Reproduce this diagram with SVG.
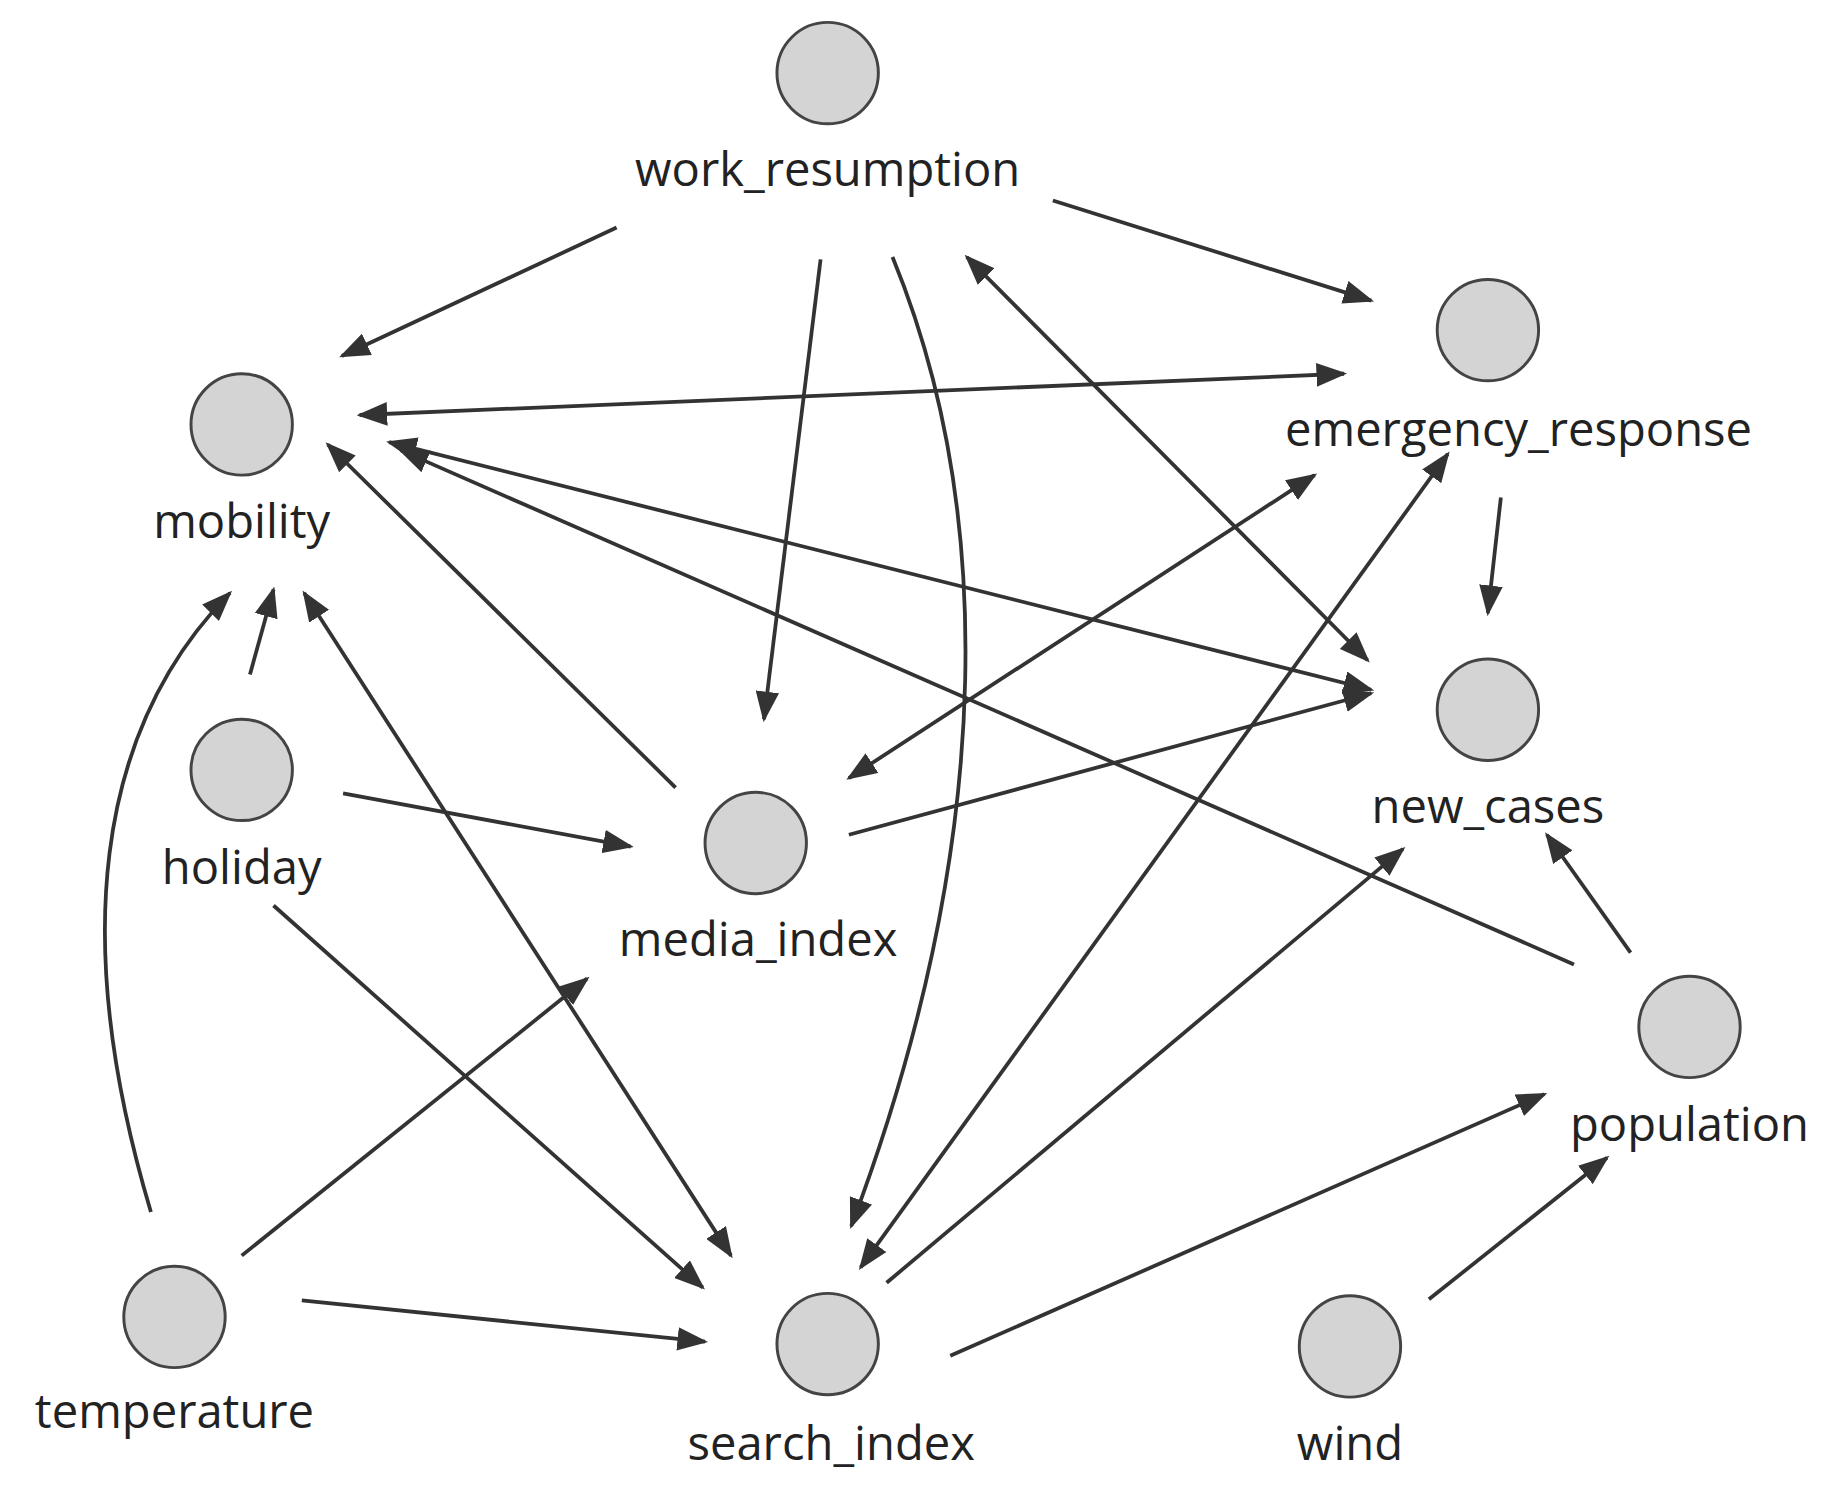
<svg xmlns="http://www.w3.org/2000/svg" width="1847" height="1494" viewBox="0 0 1847 1494">
<defs>
<style>
.n{fill:#d4d4d4;stroke:#444;stroke-width:2.5}
.t{font-family:"Open Sans","Noto Sans",sans-serif;font-size:40px;fill:#222;text-anchor:middle}
.e{stroke:#333;stroke-width:3.2;fill:none;marker-end:url(#a)}
.b{marker-start:url(#a)}
</style>
<marker id="a" viewBox="0 0 10 10" refX="9" refY="5" markerWidth="26" markerHeight="20" markerUnits="userSpaceOnUse" orient="auto-start-reverse" preserveAspectRatio="none"><path d="M0,0L10,5L0,10z" fill="#333"/></marker>
</defs>
<rect width="1847" height="1494" fill="#fff"/>
<g transform="scale(1.179)">
<g id="connectors">
<path class="e" d="M523,193L290,302"/>
<path class="e" d="M893,170L1163,255"/>
<path class="e" d="M696,220L648,610"/>
<path class="e" d="M757,218C840,420 850,700 722,1040"/>
<path class="e b" d="M820,218L1160,560"/>
<path class="e b" d="M305,352L1140,317"/>
<path class="e" d="M573,668L278,377"/>
<path class="e b" d="M330,375L1163,585"/>
<path class="e" d="M1335,818L340,382"/>
<path class="e" d="M212,572L232,500"/>
<path class="e" d="M128,1028C60,800 80,620 195,503"/>
<path class="e b" d="M258,503L620,1065"/>
<path class="e" d="M291,673L535,718"/>
<path class="e b" d="M720,660L1115,403"/>
<path class="e" d="M720,708L1163,588"/>
<path class="e" d="M1273,422L1262,520"/>
<path class="e" d="M232,768L596,1092"/>
<path class="e" d="M205,1065L498,830"/>
<path class="e" d="M256,1103L598,1138"/>
<path class="e b" d="M730,1075L1228,385"/>
<path class="e" d="M752,1088L1190,720"/>
<path class="e" d="M806,1150L1310,928"/>
<path class="e" d="M1212,1102L1363,982"/>
<path class="e" d="M1383,808L1312,708"/>
</g>
<g id="work_resumption"><circle class="n" cx="702" cy="62" r="43"/><text class="t" x="702" y="158">work_resumption</text></g>
<g id="mobility"><circle class="n" cx="205" cy="360" r="43"/><text class="t" x="205" y="456">mobility</text></g>
<g id="emergency_response"><circle class="n" cx="1262" cy="280" r="43"/><text class="t" x="1288" y="378">emergency_response</text></g>
<g id="new_cases"><circle class="n" cx="1262" cy="602" r="43"/><text class="t" x="1262" y="698">new_cases</text></g>
<g id="holiday"><circle class="n" cx="205" cy="653" r="43"/><text class="t" x="205" y="750">holiday</text></g>
<g id="media_index"><circle class="n" cx="641" cy="715" r="43"/><text class="t" x="643" y="811">media_index</text></g>
<g id="population"><circle class="n" cx="1433" cy="871" r="43"/><text class="t" x="1433" y="968">population</text></g>
<g id="temperature"><circle class="n" cx="148" cy="1117" r="43"/><text class="t" x="148" y="1211">temperature</text></g>
<g id="search_index"><circle class="n" cx="702" cy="1140" r="43"/><text class="t" x="705" y="1238">search_index</text></g>
<g id="wind"><circle class="n" cx="1145" cy="1142" r="43"/><text class="t" x="1145" y="1238">wind</text></g>
</g>
</svg>
